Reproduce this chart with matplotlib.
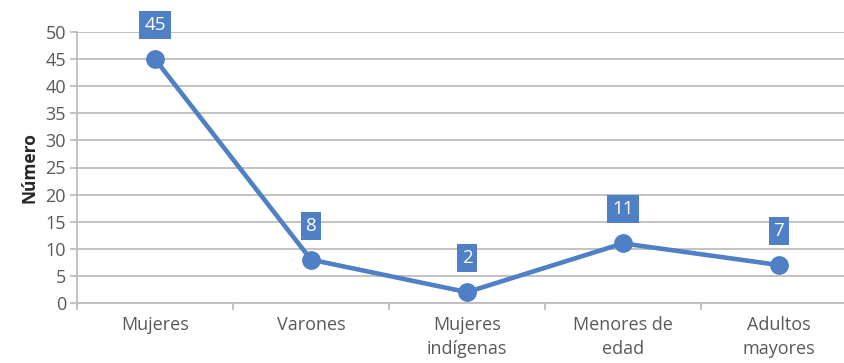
import matplotlib
matplotlib.use("Agg")
import matplotlib.pyplot as plt
from matplotlib.ticker import FixedLocator

categorias = ["Mujeres", "Varones", "Mujeres\nindígenas", "Menores de\nedad", "Adultos\nmayores"]
valores = [45, 8, 2, 11, 7]
y_ticks = [0, 5, 10, 15, 20, 25, 30, 35, 40, 45, 50]

azul = "#4F7FC4"
gris_texto = "#595959"
gris_linea = "#BDBDBD"

plt.rcParams["font.family"] = ["Open Sans", "DejaVu Sans"]

fig = plt.figure(figsize=(8.45, 3.63), dpi=100)
ax = fig.add_axes([77 / 845, 60 / 363, 780 / 845, 271 / 363])

x = list(range(len(categorias)))
ax.plot(x, valores, color=azul, lw=3.3, marker="o", ms=12.5, zorder=3, clip_on=False)

for xi, v in zip(x, valores):
    ax.annotate(str(v), (xi, v), xytext=(0, 24.5), textcoords="offset points",
                ha="center", va="center", color="white", fontsize=13.5,
                bbox=dict(boxstyle="square,pad=0.27", fc=azul, ec="none"),
                zorder=4)

ax.set_xlim(-0.5, len(categorias) - 0.5)
ax.set_ylim(0, 50)
ax.set_yticks(y_ticks)
ax.yaxis.grid(True, color=gris_linea, lw=1.3)
ax.set_axisbelow(True)

ax.set_xticks(x)
ax.set_xticklabels(categorias, color=gris_texto, fontsize=13, linespacing=1.45)
ax.xaxis.set_minor_locator(FixedLocator([i + 0.5 for i in range(-1, len(categorias))]))
ax.tick_params(axis="x", which="major", length=0, pad=9)
ax.tick_params(axis="x", which="minor", length=5, color=gris_linea, width=1.3)
ax.tick_params(axis="y", length=5, color=gris_linea, width=1.3,
               labelcolor=gris_texto, labelsize=13, pad=3)

for lado in ["top", "right"]:
    ax.spines[lado].set_visible(False)
for lado in ["left", "bottom"]:
    ax.spines[lado].set_color(gris_linea)
    ax.spines[lado].set_linewidth(1.3)

ax.set_ylabel("Número", fontsize=12.5, fontweight="bold", color="#262626", labelpad=5)

fig.savefig("out.png", dpi=100)
